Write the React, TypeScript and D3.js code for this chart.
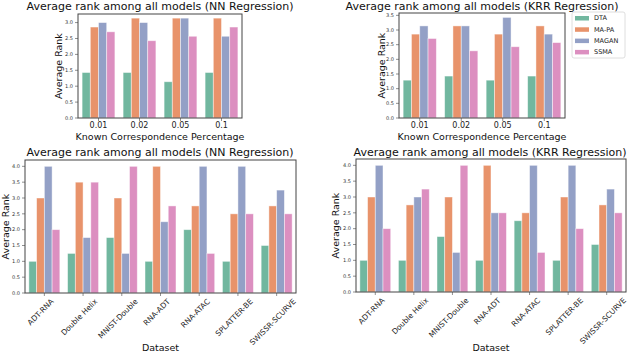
import { useEffect, useRef } from 'react'
import * as d3 from 'd3'

const MODELS = ['DTA', 'MA-PA', 'MAGAN', 'SSMA']
const COLORS = ['#71b79f', '#e8936b', '#93a0c6', '#dc8fc0']

const PERCENTS = ['0.01', '0.02', '0.05', '0.1']
const DATASETS = ['ADT-RNA', 'Double Helix', 'MNIST-Double', 'RNA-ADT', 'RNA-ATAC', 'SPLATTER-BE', 'SWISSR-SCURVE']

// rows = category, cols = model (DTA, MA-PA, MAGAN, SSMA)
const NN_PERCENT = [
  [1.43, 2.86, 3.0, 2.71],
  [1.43, 3.14, 3.0, 2.43],
  [1.14, 3.14, 3.14, 2.57],
  [1.43, 3.14, 2.57, 2.86]
]
const KRR_PERCENT = [
  [1.29, 2.86, 3.14, 2.71],
  [1.43, 3.14, 3.14, 2.29],
  [1.29, 2.86, 3.43, 2.43],
  [1.43, 3.14, 2.86, 2.57]
]
const NN_DATASET = [
  [1.0, 3.0, 4.0, 2.0],
  [1.25, 3.5, 1.75, 3.5],
  [1.75, 3.0, 1.25, 4.0],
  [1.0, 4.0, 2.25, 2.75],
  [2.0, 2.75, 4.0, 1.25],
  [1.0, 2.5, 4.0, 2.5],
  [1.5, 2.75, 3.25, 2.5]
]
const KRR_DATASET = [
  [1.0, 3.0, 4.0, 2.0],
  [1.0, 2.75, 3.0, 3.25],
  [1.75, 3.0, 1.25, 4.0],
  [1.0, 4.0, 2.5, 2.5],
  [2.25, 2.5, 4.0, 1.25],
  [1.0, 3.0, 4.0, 2.0],
  [1.5, 2.75, 3.25, 2.5]
]

const TICKS_3 = [0, 0.5, 1, 1.5, 2, 2.5, 3]
const TICKS_35 = [0, 0.5, 1, 1.5, 2, 2.5, 3, 3.5]
const TICKS_4 = [0, 0.5, 1, 1.5, 2, 2.5, 3, 3.5, 4]

const FONT = 'DejaVu Sans, sans-serif'

const PANELS = [
  {
    title: 'Average rank among all models (NN Regression)', cats: PERCENTS, values: NN_PERCENT,
    box: { l: 78, r: 242, t: 14, b: 118 }, ymax: 3.27, ticks: TICKS_3,
    xlabel: 'Known Correspondence Percentage', xlabelY: 140, titleX: 160, titleY: 10, ylabelX: 62, rotate: false, legend: false
  },
  {
    title: 'Average rank among all models (KRR Regression)', cats: PERCENTS, values: KRR_PERCENT,
    box: { l: 399, r: 565, t: 13, b: 118 }, ymax: 3.58, ticks: TICKS_35,
    xlabel: 'Known Correspondence Percentage', xlabelY: 140, titleX: 482, titleY: 10, ylabelX: 385, rotate: false, legend: true
  },
  {
    title: 'Average rank among all models (NN Regression)', cats: DATASETS, values: NN_DATASET,
    box: { l: 25, r: 296, t: 160, b: 293 }, ymax: 4.2, ticks: TICKS_4,
    xlabel: 'Dataset', xlabelY: 351, titleX: 160, titleY: 156, ylabelX: 9, rotate: true, legend: false
  },
  {
    title: 'Average rank among all models (KRR Regression)', cats: DATASETS, values: KRR_DATASET,
    box: { l: 356, r: 626, t: 159, b: 292 }, ymax: 4.2, ticks: TICKS_4,
    xlabel: 'Dataset', xlabelY: 351, titleX: 490, titleY: 156, ylabelX: 339, rotate: true, legend: false
  }
]

export default function App() {
  const ref = useRef<SVGSVGElement>(null)

  useEffect(() => {
    const svg = d3.select(ref.current)
    svg.selectAll('*').remove()

    PANELS.forEach(p => {
      const g = svg.append('g')
      const { l, r, t, b } = p.box

      const x = d3.scaleBand().domain(p.cats).range([l, r]).paddingInner(0.2).paddingOuter(0.1)
      const xs = d3.scaleBand().domain(MODELS).range([0, x.bandwidth()])
      const y = d3.scaleLinear().domain([0, p.ymax]).range([b, t])

      // bars
      p.cats.forEach((c, ci) => {
        MODELS.forEach((m, mi) => {
          const v = p.values[ci][mi]
          g.append('rect')
            .attr('x', (x(c) ?? 0) + (xs(m) ?? 0))
            .attr('y', y(v))
            .attr('width', xs.bandwidth())
            .attr('height', y(0) - y(v))
            .attr('fill', COLORS[mi])
            .attr('stroke', '#ffffff')
            .attr('stroke-opacity', 0.55)
            .attr('stroke-width', 0.8)
        })
      })

      // spines
      g.append('rect')
        .attr('x', l).attr('y', t)
        .attr('width', r - l).attr('height', b - t)
        .attr('fill', 'none').attr('stroke', '#444').attr('stroke-width', 1)

      // y ticks
      p.ticks.forEach(tv => {
        g.append('line')
          .attr('x1', l - 3).attr('x2', l).attr('y1', y(tv)).attr('y2', y(tv))
          .attr('stroke', '#444').attr('stroke-width', 0.6)
        g.append('text')
          .attr('x', l - 5).attr('y', y(tv)).attr('dy', '0.35em')
          .attr('text-anchor', 'end').attr('font-size', 5).attr('font-family', FONT).attr('fill', '#333')
          .text(tv.toFixed(1))
      })

      // x ticks
      p.cats.forEach(c => {
        const cx = (x(c) ?? 0) + x.bandwidth() / 2
        g.append('line')
          .attr('x1', cx).attr('x2', cx).attr('y1', b).attr('y2', b + 3)
          .attr('stroke', '#444').attr('stroke-width', 0.6)
        if (!p.rotate) {
          g.append('text')
            .attr('x', cx).attr('y', b + 10)
            .attr('text-anchor', 'middle').attr('font-size', 8).attr('font-family', FONT).attr('fill', '#222')
            .text(c)
        } else {
          const tx = g.append('text')
            .attr('text-anchor', 'end').attr('font-size', 7.5).attr('font-family', FONT).attr('fill', '#222')
            .text(c)
          const len = (tx.node() as SVGTextElement).getComputedTextLength()
          const h = 7.5 * 0.75
          const ex = cx + (len * Math.SQRT1_2) / 2 - (h * Math.SQRT1_2) / 2
          const ey = b + 5 + h * Math.SQRT1_2
          tx.attr('transform', `translate(${ex},${ey}) rotate(-45)`)
        }
      })

      // title
      g.append('text')
        .attr('x', p.titleX).attr('y', p.titleY)
        .attr('text-anchor', 'middle').attr('font-size', 11).attr('font-family', FONT).attr('fill', '#111')
        .text(p.title)

      // axis labels
      g.append('text')
        .attr('x', (l + r) / 2).attr('y', p.xlabelY)
        .attr('text-anchor', 'middle').attr('font-size', 9.5).attr('font-family', FONT).attr('fill', '#111')
        .text(p.xlabel)
      g.append('text')
        .attr('transform', `translate(${p.ylabelX},${(t + b) / 2}) rotate(-90)`)
        .attr('text-anchor', 'middle').attr('font-size', 9.5).attr('font-family', FONT).attr('fill', '#111')
        .text('Average Rank')

      if (p.legend) {
        const lg = g.append('g').attr('transform', 'translate(572,12)')
        lg.append('rect')
          .attr('width', 53).attr('height', 46).attr('rx', 2)
          .attr('fill', '#fff').attr('stroke', '#d6d6d6').attr('stroke-width', 0.8)
        MODELS.forEach((m, i) => {
          const ly = 6 + i * 11.3
          lg.append('rect')
            .attr('x', 3).attr('y', ly - 2).attr('width', 14).attr('height', 4.5)
            .attr('fill', COLORS[i])
          lg.append('text')
            .attr('x', 22).attr('y', ly).attr('dy', '0.35em')
            .attr('font-size', 6.5).attr('font-family', FONT).attr('fill', '#222')
            .text(m)
        })
      }
    })
  }, [])

  return <svg ref={ref} width={640} height={353} style={{ display: 'block', position: 'absolute', left: 0, top: 0 }} />
}
